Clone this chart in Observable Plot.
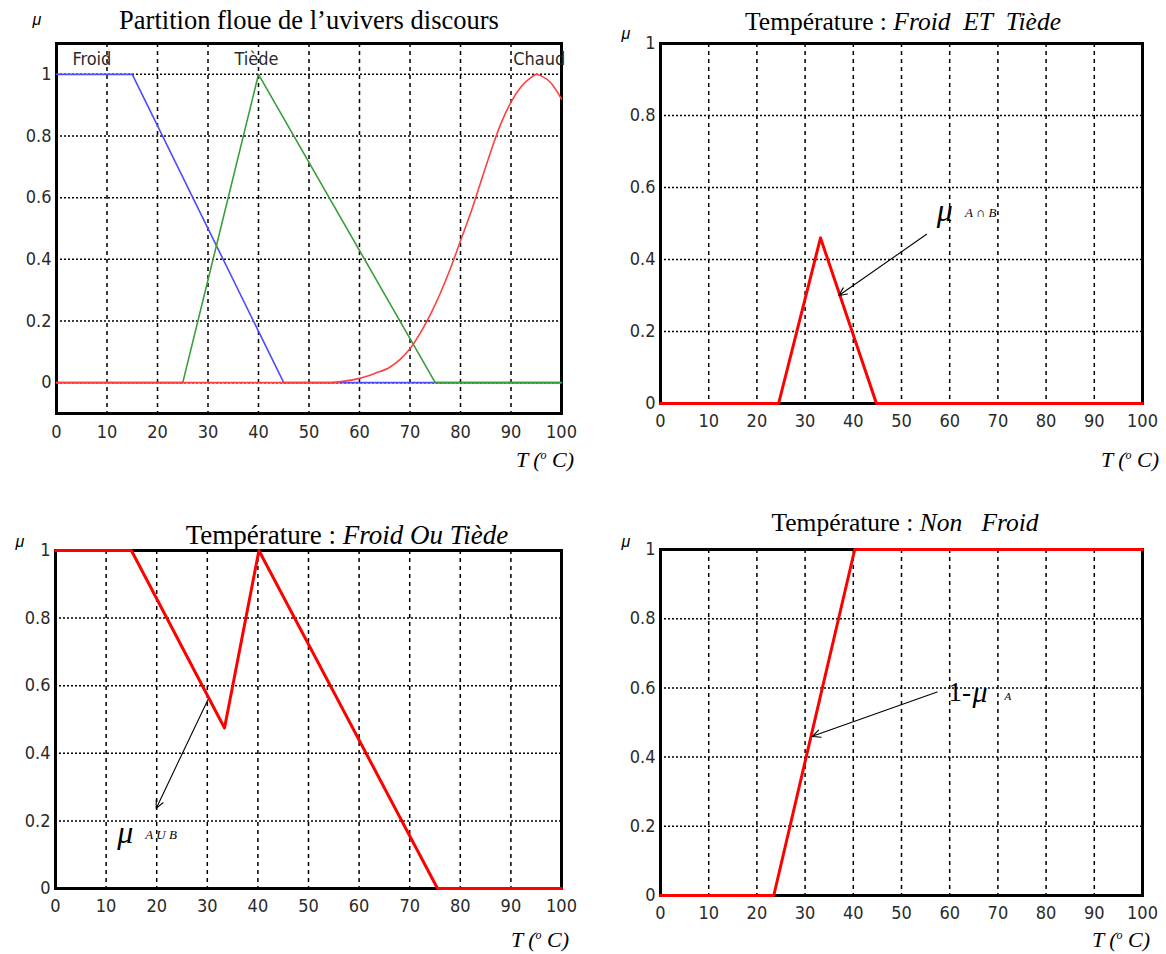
<!DOCTYPE html>
<html><head><meta charset="utf-8">
<script src="https://cdn.jsdelivr.net/npm/d3@7"></script>
<script src="https://cdn.jsdelivr.net/npm/@observablehq/plot@0.6"></script>
<style>
body{margin:0;background:#fff;}
#page{position:relative;width:1166px;height:954px;overflow:hidden;background:#fff;}
.panel{position:absolute;}
.lbl{position:absolute;transform:translate(-50%,-50%);white-space:nowrap;color:#000;line-height:1;}
.title{font-family:"Liberation Serif","Times New Roman",serif;font-size:25px;}
.mu{font-family:"Liberation Sans",Arial,sans-serif;font-size:16px;font-style:italic;}
.tc{font-family:"Liberation Serif","Times New Roman",serif;font-size:22px;font-style:italic;}
.tc .o{font-size:12px;position:relative;top:-8px;}
</style>
</head><body><div id="page"></div>
<script>
// ---- data ----
const xTicks = [0,10,20,30,40,50,60,70,80,90,100];
const yTicks = [0,0.2,0.4,0.6,0.8,1];
const seriesNames = ["Froid","Tiède","Chaud"];
const froidT = [0,15,45,100];
const froidMu = [1,1,0,0];
const tiedeT = [0,25,40,75,100];
const tiedeMu = [0,0,1,0,0];
const chaudT = [0,53.5,57,60,63,66,68,70,72,74,76,78,80,82,84,86,88,90,92,94,95,96,98,100];
const chaudMu = [0,0,0.005,0.014,0.03,0.05,0.075,0.11,0.16,0.22,0.29,0.37,0.46,0.55,0.65,0.75,0.84,0.91,0.96,0.99,1,0.995,0.97,0.92];
const andT = [0,24.5,33.2,44.8,100];
const andMu = [0,0,0.46,0,0];
const orT = [0,15,33.4,40.2,75.5,100];
const orMu = [1,1,0.475,1,0,0];
const notT = [0,23.5,40.3,100];
const notMu = [0,0,1,1];
const andNote = [{x:59, y:0.535, main:"μ", sub:"A ∩ B"}];
const andArrow = [{x1:55.2, y1:0.47, x2:37, y2:0.30}];
const orNote = [{x:13.8, y:0.166, main:"μ", sub:"A U B"}];
const orArrow = [{x1:30.1, y1:0.558, x2:19.9, y2:0.237}];
const notNote = [{x:59.75, y:0.587, pre:"1-", main:"μ", sub:"A"}];
const notArrow = [{x1:57.4, y1:0.588, x2:31.5, y2:0.46}];

const toRows = (T, M) => T.map((t, i) => ({T: t, mu: M[i]}));

const NARROW = '"Liberation Sans Narrow","Arial Narrow","DejaVu Sans Condensed",sans-serif';
const SERIF = '"Liberation Serif","Times New Roman",serif';

function panel(c, marks) {
  return Plot.plot({
    width: c.w, height: c.h,
    marginLeft: c.ml, marginRight: c.mr, marginTop: c.mt, marginBottom: c.mb,
    x: {domain: [0, 100], axis: null},
    y: {domain: c.yd, axis: null},
    style: {fontFamily: NARROW, fontSize: "18px", color: "#2a2a2a", background: "transparent", overflow: "visible"},
    marks: [
      Plot.ruleX(xTicks, {stroke: "#000", strokeWidth: 1.5, strokeDasharray: "4,4"}),
      Plot.ruleY(yTicks, {stroke: "#000", strokeWidth: 1.5, strokeDasharray: "2,2"}),
      Plot.axisX({ticks: xTicks, tickSize: 0, tickPadding: c.xp, label: null, tickFormat: d => String(d)}),
      Plot.axisY({ticks: yTicks, tickSize: 0, tickPadding: 5, label: null, tickFormat: d => String(d)}),
      Plot.frame({stroke: "#000", strokeWidth: 3}),
      ...marks
    ]
  });
}

function place(svg, left, top) {
  const d = document.createElement("div");
  d.className = "panel";
  d.style.left = left + "px";
  d.style.top = top + "px";
  d.appendChild(svg);
  document.getElementById("page").appendChild(d);
}
function label(html, cls, x, y, size) {
  const d = document.createElement("div");
  d.className = "lbl " + cls;
  d.style.left = x + "px";
  d.style.top = y + "px";
  if (size) d.style.fontSize = size + "px";
  d.innerHTML = html;
  document.getElementById("page").appendChild(d);
}

const redLine = (rows) => Plot.line(rows, {x: "T", y: "mu", stroke: "#ff0000", strokeWidth: 3});
const arrow = (data) => Plot.arrow(data, {x1: "x1", y1: "y1", x2: "x2", y2: "y2", stroke: "#000", strokeWidth: 1.1, headLength: 12, headAngle: 50});

// Panel 1
place(panel({w: 580, h: 470, ml: 56, mr: 19, mt: 43, mb: 57, yd: [-0.1, 1.1], xp: 12}, [
  Plot.line(toRows(froidT, froidMu), {x: "T", y: "mu", stroke: "#4d4dff", strokeWidth: 1.6}),
  Plot.line(toRows(tiedeT, tiedeMu), {x: "T", y: "mu", stroke: "#3a9e3a", strokeWidth: 1.6}),
  Plot.line(toRows(chaudT, chaudMu), {x: "T", y: "mu", stroke: "#ff4040", strokeWidth: 1.6, curve: "monotone-x"}),
  Plot.text(seriesNames, {x: [7, 39.6, 95.6], y: [1.05, 1.05, 1.05], text: d => d, fill: "#2a2a2a", fontSize: 18, fontFamily: NARROW})
]), 0, 0);

// Panel 2
place(panel({w: 576, h: 470, ml: 70, mr: 24, mt: 43, mb: 67, yd: [0, 1], xp: 11}, [
  redLine(toRows(andT, andMu)),
  arrow(andArrow),
  Plot.text(andNote, {x: "x", y: "y", text: "main", fontSize: 32, fontStyle: "italic", fontFamily: SERIF, fill: "#000"}),
  Plot.text(andNote, {x: "x", y: "y", text: "sub", dx: 20, dy: 2, textAnchor: "start", fontSize: 13, fontStyle: "italic", fontFamily: SERIF, fill: "#000"})
]), 590, 0);

// Panel 3
place(panel({w: 580, h: 474, ml: 55, mr: 19, mt: 70, mb: 66, yd: [0, 1], xp: 11}, [
  redLine(toRows(orT, orMu)),
  arrow(orArrow),
  Plot.text(orNote, {x: "x", y: "y", text: "main", fontSize: 32, fontStyle: "italic", fontFamily: SERIF, fill: "#000"}),
  Plot.text(orNote, {x: "x", y: "y", text: "sub", dx: 20, dy: 2, textAnchor: "start", fontSize: 13, fontStyle: "italic", fontFamily: SERIF, fill: "#000"})
]), 0, 480);

// Panel 4
place(panel({w: 576, h: 474, ml: 70, mr: 24, mt: 69, mb: 59, yd: [0, 1], xp: 11}, [
  redLine(toRows(notT, notMu)),
  arrow(notArrow),
  Plot.text(notNote, {x: "x", y: "y", text: "pre", textAnchor: "start", fontSize: 27, fontFamily: SERIF, fill: "#000"}),
  Plot.text(notNote, {x: "x", y: "y", text: "main", dx: 24, textAnchor: "start", fontSize: 30, fontStyle: "italic", fontFamily: SERIF, fill: "#000"}),
  Plot.text(notNote, {x: "x", y: "y", text: "sub", dx: 56, dy: 4, textAnchor: "start", fontSize: 11, fontStyle: "italic", fontFamily: SERIF, fill: "#000"})
]), 590, 480);

// Titles and axis labels
label("Partition floue de l’uvivers discours", "title", 309, 20, 26.5);
label("Température : <i>Froid&nbsp; ET&nbsp; Tiède</i>", "title", 903, 22, 25.5);
label("Température : <i>Froid Ou Tiède</i>", "title", 347, 535, 27);
label("Température : <i>Non&nbsp;&nbsp; Froid</i>", "title", 905, 523, 25.5);
label("μ", "mu", 37, 20);
label("μ", "mu", 626, 34);
label("μ", "mu", 20, 542);
label("μ", "mu", 626, 542);
const tcHtml = 'T (<span class="o">o</span> C)';
label(tcHtml, "tc", 545, 460);
label(tcHtml, "tc", 1130, 460);
label(tcHtml, "tc", 540, 940);
label(tcHtml, "tc", 1121, 940);
</script>
</body></html>
